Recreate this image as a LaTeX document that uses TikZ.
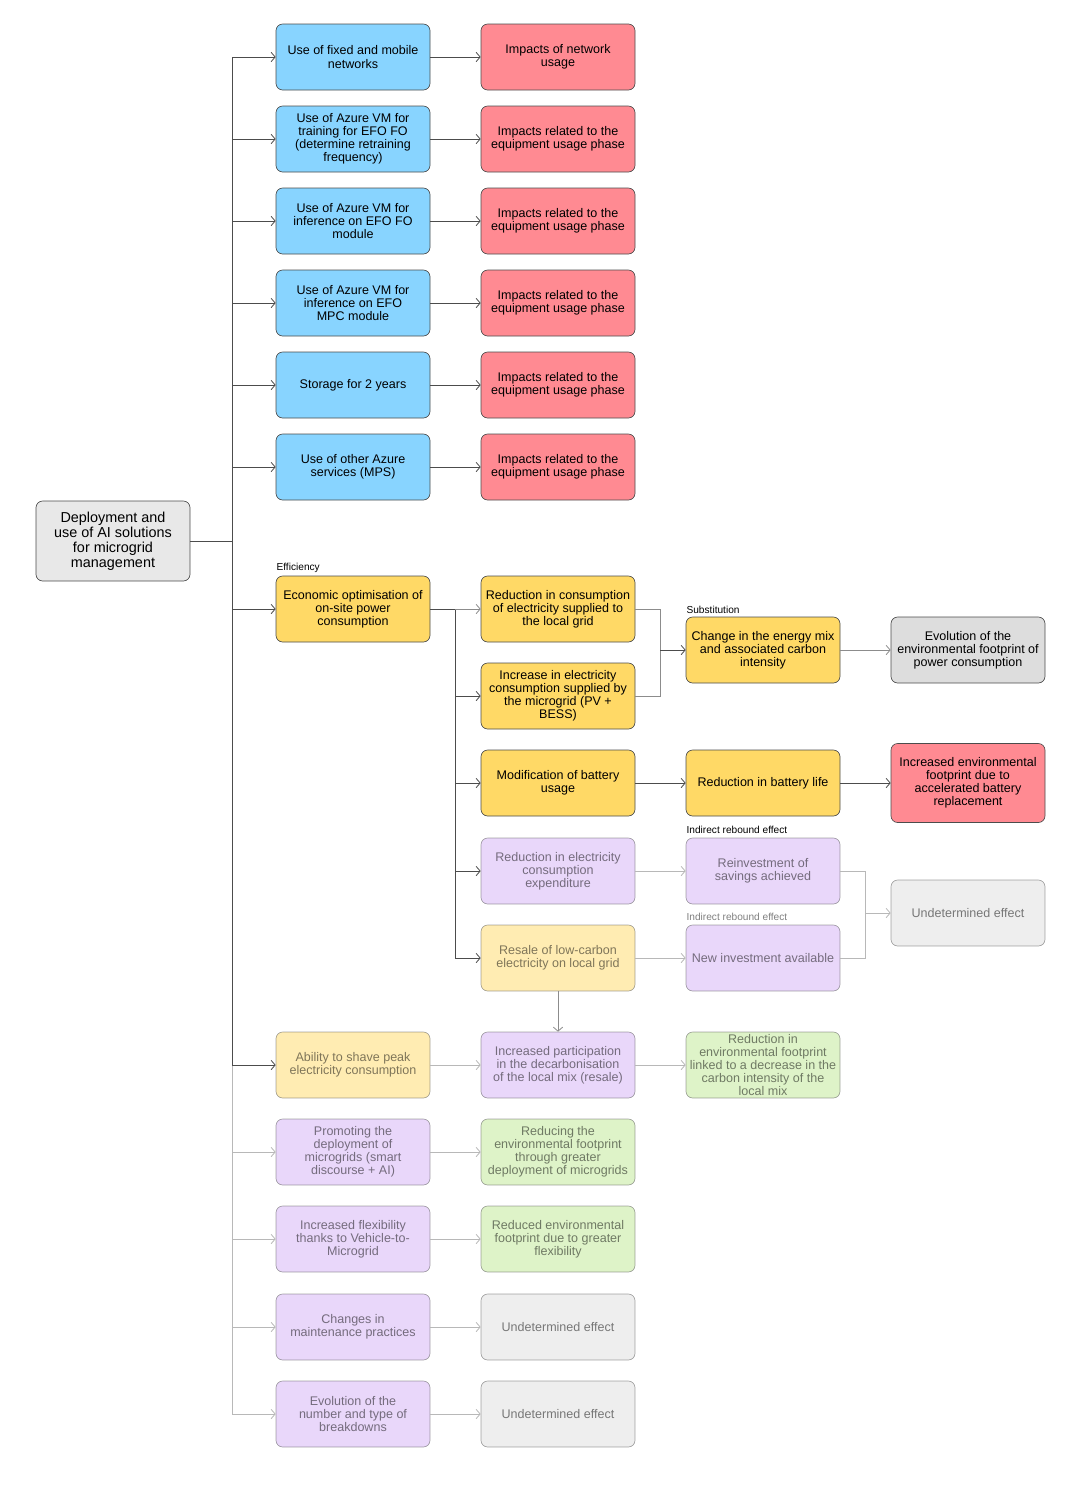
\documentclass[tikz,border=0pt]{standalone}
\usepackage{fontspec}
\setmainfont{Liberation Sans}
\usetikzlibrary{arrows.meta}
\definecolor{netblue}{HTML}{88D4FF}
\definecolor{impred}{HTML}{FF8A92}
\definecolor{effyellow}{HTML}{FFD966}
\definecolor{rebpurple}{HTML}{D3AFF5}
\definecolor{redgreen}{HTML}{BDE791}
\definecolor{neutgrey}{HTML}{DDDDDD}
\definecolor{rootgrey}{HTML}{E8E8E8}
\newcommand{\boxfont}{\fontsize{9.4}{9.8}\selectfont}
\newcommand{\tagfont}{\fontsize{7.6}{8}\selectfont}
\begin{document}
\begin{tikzpicture}[x=0.75pt,y=-0.75pt,
  box/.style={draw=black!70, line width=0.5pt, rounded corners=5pt, minimum width=115.5pt,
    minimum height=49.5pt, inner sep=1pt, align=center, font=\boxfont},
  faded/.style={opacity=0.5},
  tag/.style={anchor=south west, inner sep=1pt, font=\tagfont},
  wire/.style={draw=black!70, line width=0.6pt},
  link/.style={wire, -{Straight Barb[length=3pt,width=7pt]}},
  mid/.style={draw=black!45},
  pale/.style={draw=black!28}]
\useasboundingbox (0,0) rectangle (1080,1490);

		\node [box, fill=rootgrey, minimum height=60pt, font=\fontsize{10.8}{11.3}\selectfont] (root) at (113,541) {Deployment and\\use of AI solutions\\for microgrid\\management};

		\node [box, fill=netblue] (u1) at (353,57) {Use of fixed and mobile\\networks};
		\node [box, fill=netblue] (u2) at (353,139) {Use of Azure VM for\\training for EFO FO\\(determine retraining\\frequency)};
		\node [box, fill=netblue] (u3) at (353,221) {Use of Azure VM for\\inference on EFO FO\\module};
		\node [box, fill=netblue] (u4) at (353,303) {Use of Azure VM for\\inference on EFO\\MPC module};
		\node [box, fill=netblue] (u5) at (353,385) {Storage for 2 years};
		\node [box, fill=netblue] (u6) at (353,467) {Use of other Azure\\services (MPS)};

		\node [box, fill=impred] (i1) at (558,57) {Impacts of network\\usage};
		\node [box, fill=impred] (i2) at (558,139) {Impacts related to the\\equipment usage phase};
		\node [box, fill=impred] (i3) at (558,221) {Impacts related to the\\equipment usage phase};
		\node [box, fill=impred] (i4) at (558,303) {Impacts related to the\\equipment usage phase};
		\node [box, fill=impred] (i5) at (558,385) {Impacts related to the\\equipment usage phase};
		\node [box, fill=impred] (i6) at (558,467) {Impacts related to the\\equipment usage phase};

		\node [box, fill=effyellow] (eco) at (353,609) {Economic optimisation of\\on-site power\\consumption};
		\node [box, fill=effyellow] (redcons) at (558,609) {Reduction in consumption\\of electricity supplied to\\the local grid};
		\node [box, fill=effyellow] (inccons) at (558,696) {Increase in electricity\\consumption supplied by\\the microgrid (PV +\\BESS)};
		\node [box, fill=effyellow] (modbat) at (558,783) {Modification of battery\\usage};
		\node [box, fill=rebpurple, faded] (redexp) at (558,871) {Reduction in electricity\\consumption\\expenditure};
		\node [box, fill=effyellow, faded] (resale) at (558,958) {Resale of low-carbon\\electricity on local grid};

		\node [box, fill=effyellow] (mixch) at (763,650) {Change in the energy mix\\and associated carbon\\intensity};
		\node [box, fill=effyellow] (batlife) at (763,783) {Reduction in battery life};
		\node [box, fill=rebpurple, faded] (reinv) at (763,871) {Reinvestment of\\savings achieved};
		\node [box, fill=rebpurple, faded] (newinv) at (763,958) {New investment available};

		\node [box, fill=neutgrey] (evol) at (968,650) {Evolution of the\\environmental footprint of\\power consumption};
		\node [box, fill=impred, minimum height=59.25pt] (incfoot) at (968,783) {Increased environmental\\footprint due to\\accelerated battery\\replacement};
		\node [box, fill=neutgrey, faded] (undet) at (968,913) {Undetermined effect};

		\node [box, fill=effyellow, faded] (ability) at (353,1065) {Ability to shave peak\\electricity consumption};
		\node [box, fill=rebpurple, faded] (partic) at (558,1065) {Increased participation\\in the decarbonisation\\of the local mix (resale)};
		\node [box, fill=redgreen, faded] (decarb) at (763,1065) {Reduction in\\environmental footprint\\linked to a decrease in the\\carbon intensity of the\\local mix};

		\node [box, fill=rebpurple, faded] (prom) at (353,1152) {Promoting the\\deployment of\\microgrids (smart\\discourse + AI)};
		\node [box, fill=redgreen, faded] (promg) at (558,1152) {Reducing the\\environmental footprint\\through greater\\deployment of microgrids};
		\node [box, fill=rebpurple, faded] (flex) at (353,1239) {Increased flexibility\\thanks to Vehicle-to-\\Microgrid};
		\node [box, fill=redgreen, faded] (flexg) at (558,1239) {Reduced environmental\\footprint due to greater\\flexibility};
		\node [box, fill=rebpurple, faded] (maint) at (353,1327) {Changes in\\maintenance practices};
		\node [box, fill=neutgrey, faded] (und2) at (558,1327) {Undetermined effect};
		\node [box, fill=rebpurple, faded] (brk) at (353,1414) {Evolution of the\\number and type of\\breakdowns};
		\node [box, fill=neutgrey, faded] (und3) at (558,1414) {Undetermined effect};

		\node [tag] (efftag) at (275,574) {Efficiency};
		\node [tag] (subtag) at (685,615) {Substitution};
		\node [tag] (rebtag) at (685,835) {Indirect rebound effect};
		\node [tag, faded] (rebtag2) at (685,922) {Indirect rebound effect};

		\coordinate (trunk) at (232,541);
		\coordinate (fork) at (455,609);
		\coordinate (mix) at (660,650);
		\coordinate (reb) at (865,913);

		\draw [wire] (root) to (trunk);
		\draw [wire] (trunk |- u1) to (trunk |- ability);
		\draw [wire, pale] (trunk |- ability) to (trunk |- brk);
		\foreach \n in {u1,u2,u3,u4,u5,u6,eco,ability}
			\draw [link] (trunk |- \n) to (\n);
		\foreach \n in {prom,flex,maint,brk}
			\draw [link, pale] (trunk |- \n) to (\n);
		\foreach \a/\b in {u1/i1,u2/i2,u3/i3,u4/i4,u5/i5,u6/i6}
			\draw [link] (\a) to (\b);

		\draw [wire] (eco) to (fork);
		\draw [wire] (fork) to (fork |- resale);
		\draw [link, mid] (fork) to (redcons);
		\foreach \n in {inccons,modbat,redexp,resale}
			\draw [link] (fork |- \n) to (\n);

		\draw [wire, mid] (redcons) -| (mix);
		\draw [wire, mid] (inccons) -| (mix);
		\draw [link] (mix) to (mixch);
		\draw [link, mid] (mixch) to (evol);
		\draw [link] (modbat) to (batlife);
		\draw [link] (batlife) to (incfoot);

		\draw [link, pale] (redexp) to (reinv);
		\draw [link, pale] (resale) to (newinv);
		\draw [wire, pale] (reinv) -| (reb);
		\draw [wire, pale] (newinv) -| (reb);
		\draw [link, pale] (reb) to (undet);
		\draw [link, mid] (resale) to (partic);

		\draw [link, pale] (ability) to (partic);
		\draw [link, pale] (partic) to (decarb);
		\foreach \a/\b in {prom/promg,flex/flexg,maint/und2,brk/und3}
			\draw [link, pale] (\a) to (\b);
\end{tikzpicture}
\end{document}
